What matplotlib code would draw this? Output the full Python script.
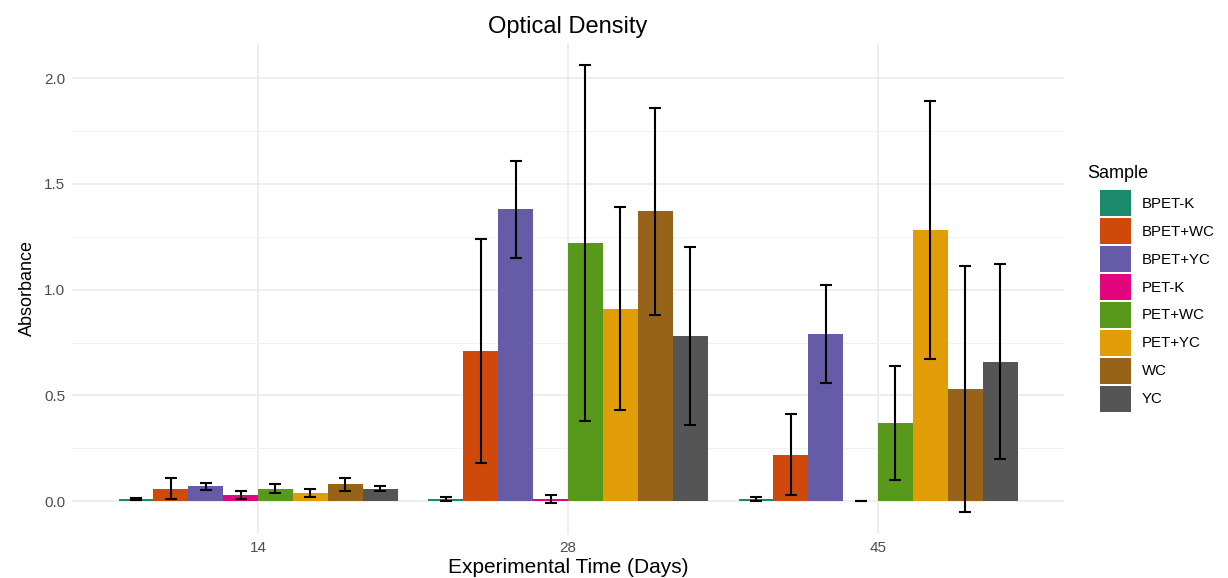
import numpy as np
import matplotlib.pyplot as plt
from matplotlib.patches import Patch

plt.rcParams['font.family'] = ['Liberation Sans', 'DejaVu Sans']

days = ['14', '28', '45']
samples = ['BPET-K', 'BPET+WC', 'BPET+YC', 'PET-K', 'PET+WC', 'PET+YC', 'WC', 'YC']
colors = ['#1B8A6B', '#CF4A0A', '#655BA6', '#E2057E', '#58991C', '#E09D06', '#976319', '#555555']

# mean absorbance per sample, one list per day
mean_14 = [0.01, 0.06, 0.07, 0.03, 0.06, 0.04, 0.08, 0.06]
mean_28 = [0.01, 0.71, 1.38, 0.01, 1.22, 0.91, 1.37, 0.78]
mean_45 = [0.01, 0.22, 0.79, 0.00, 0.37, 1.28, 0.53, 0.66]
# error (sd) per sample
sd_14 = [0.005, 0.05, 0.015, 0.02, 0.02, 0.02, 0.03, 0.01]
sd_28 = [0.01, 0.53, 0.23, 0.02, 0.84, 0.48, 0.49, 0.42]
sd_45 = [0.01, 0.19, 0.23, 0.00, 0.27, 0.61, 0.58, 0.46]

means = np.array([mean_14, mean_28, mean_45])
sds = np.array([sd_14, sd_28, sd_45])

fig = plt.figure(figsize=(12.28, 5.78), dpi=100)
ax = fig.add_axes([72 / 1228, 1 - 534 / 578, (1064 - 72) / 1228, (534 - 43) / 578])

n = len(samples)
bw = 0.9 / n
x = np.arange(1, len(days) + 1)
for i, s in enumerate(samples):
    xpos = x - 0.45 + bw * (i + 0.5)
    ax.bar(xpos, means[:, i], width=bw, color=colors[i], zorder=2, linewidth=0)
    ax.errorbar(xpos, means[:, i], yerr=sds[:, i], fmt='none', ecolor='black',
                elinewidth=1.5, capsize=4, capthick=1.5, zorder=3)

ax.set_xlim(0.4, 3.6)
ax.set_ylim(-0.155, 2.1655)
ax.set_xticks(x)
ax.set_xticklabels(days)
ax.set_yticks([0, 0.5, 1.0, 1.5, 2.0])
ax.set_yticklabels(['0.0', '0.5', '1.0', '1.5', '2.0'])
ax.set_yticks([0.25, 0.75, 1.25, 1.75], minor=True)

ax.grid(True, which='major', color='#EBEBEB', linewidth=1.2, zorder=0)
ax.grid(True, which='minor', axis='y', color='#F2F2F2', linewidth=0.7, zorder=0)
ax.set_axisbelow(True)
for sp in ax.spines.values():
    sp.set_visible(False)
ax.tick_params(which='both', length=0, labelsize=11, labelcolor='#4D4D4D', pad=5)

ax.set_title('Optical Density', fontsize=17, pad=7)
ax.set_xlabel('Experimental Time (Days)', fontsize=15, labelpad=2)
ax.set_ylabel('Absorbance', fontsize=13, labelpad=6)

# legend: title drawn separately so keys sit indented like ggplot
fig.text(1087 / 1228, 1 - 173 / 578, 'Sample', fontsize=13, ha='left', va='center')
handles = [Patch(facecolor=c, edgecolor='none') for c in colors]
leg = fig.legend(handles, samples, loc='upper left',
                 bbox_to_anchor=(1100 / 1228, 1 - 190 / 578), frameon=False,
                 fontsize=10.8, handlelength=2.05, handleheight=2.29,
                 labelspacing=0.13, handletextpad=0.75, borderpad=0,
                 borderaxespad=0)

fig.savefig('out.png', dpi=100)
